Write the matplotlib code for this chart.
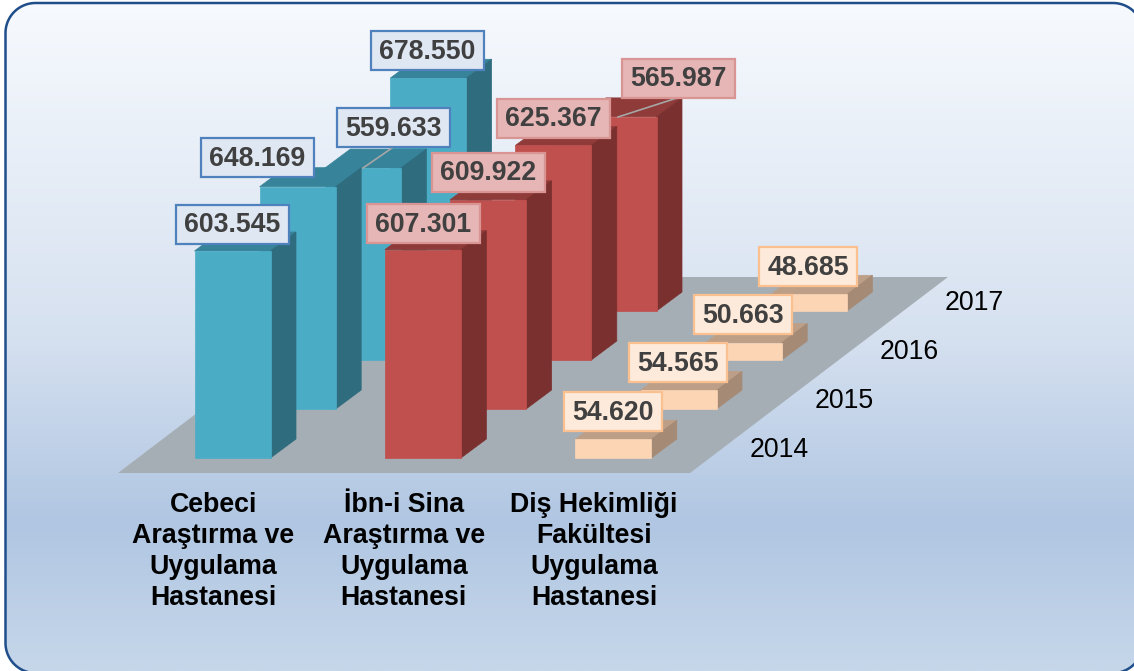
import matplotlib
matplotlib.use('Agg')
import matplotlib.pyplot as plt
import numpy as np
from matplotlib.colors import LinearSegmentedColormap
from matplotlib.patches import FancyBboxPatch, Polygon

plt.rcParams['font.family'] = ['Liberation Sans', 'DejaVu Sans']

years = ['2014', '2015', '2016', '2017']
categories = ['Cebeci\nAraştırma ve\nUygulama\nHastanesi',
              'İbn-i Sina\nAraştırma ve\nUygulama\nHastanesi',
              'Diş Hekimliği\nFakültesi\nUygulama\nHastanesi']
cebeci = [603545, 648169, 559633, 678550]
ibni_sina = [607301, 609922, 625367, 565987]
dis_hekimligi = [54620, 54565, 50663, 48685]
series = [cebeci, ibni_sina, dis_hekimligi]

# front, side, top, label face, label edge
colors = [('#4bacc6', '#2f6c7d', '#37849a', '#dfe7f3', '#4f81bd'),
          ('#c0504d', '#7a302e', '#8f3b39', '#e6b5b5', '#d99594'),
          ('#fcd5b5', '#a58a75', '#bd9f87', '#fdeada', '#fac090')]

# label centres, moved by hand like in the original chart
label_pos = [[(232.5, 224), (257.5, 157), (393.5, 127.5), (427.5, 50.5)],
             [(423, 223), (488, 172), (553, 118), (678, 78)],
             [(613, 411.5), (678, 362.5), (743, 314.5), (808, 266.5)]]

# oblique projection, everything in picture pixels
X0, Y0 = 194.5, 458
CAT_STEP, YEAR_DX, YEAR_DY = 190.4, 65.2, -49
BAR_W, DEPTH_X, DEPTH_Y = 76, 25.5, -19
PX_PER_UNIT = 0.343 / 1000


def bar_faces(i, j, v):
	x = X0 + CAT_STEP * i + YEAR_DX * j
	y = Y0 + YEAR_DY * j
	top = y - v * PX_PER_UNIT
	front = [(x, y), (x + BAR_W, y), (x + BAR_W, top), (x, top)]
	side = [(x + BAR_W, y), (x + BAR_W + DEPTH_X, y + DEPTH_Y),
	        (x + BAR_W + DEPTH_X, top + DEPTH_Y), (x + BAR_W, top)]
	cap = [(x, top), (x + BAR_W, top), (x + BAR_W + DEPTH_X, top + DEPTH_Y),
	       (x + DEPTH_X, top + DEPTH_Y)]
	return front, side, cap


def rounded_rect(x0, y0, x1, y1, r):
	# corners as short arcs, the curved patch goes wrong when it leaves the canvas
	pts = []
	for cx, cy, start in [(x1 - r, y0 + r, -90), (x1 - r, y1 - r, 0), (x0 + r, y1 - r, 90), (x0 + r, y0 + r, 180)]:
		a = np.radians(np.linspace(start, start + 90, 24))
		pts += list(zip(cx + r * np.cos(a), cy + r * np.sin(a)))
	return pts


fig = plt.figure(figsize=(11.34, 6.71), dpi=100)
ax = fig.add_axes([0, 0, 1, 1])
ax.set_xlim(0, 1134)
ax.set_ylim(671, 0)
ax.axis('off')

# background panel
cmap = LinearSegmentedColormap.from_list('panel', [(0, '#f7fafe'), (0.5, '#d6e1f0'),
                                                   (0.78, '#b0c6e2'), (1, '#c6d7ea')])
grad = np.linspace(0, 1, 256).reshape(-1, 1)
im = ax.imshow(grad, cmap=cmap, extent=(0, 1134, 671, 0), aspect='auto', zorder=0)
panel = Polygon(rounded_rect(5.5, 3, 1143, 673, 30), closed=True, fc='none', ec='#1f4e8a', lw=1.8, zorder=1)
ax.add_patch(panel)
im.set_clip_path(panel)
ax.set_xlim(0, 1134)
ax.set_ylim(671, 0)

# floor
ax.add_patch(Polygon([(118, 473), (690, 473), (948, 277), (376, 277)], fc='#a6aeb5', ec='none', zorder=2))

# bars, back row first
z = 3
for j in range(len(years) - 1, -1, -1):
	for i in range(len(categories)):
		front, side, cap = bar_faces(i, j, series[i][j])
		c = colors[i]
		ax.add_patch(Polygon(cap, fc=c[2], ec=c[2], lw=0.5, zorder=z))
		ax.add_patch(Polygon(side, fc=c[1], ec=c[1], lw=0.5, zorder=z))
		ax.add_patch(Polygon(front, fc=c[0], ec=c[0], lw=0.5, zorder=z))
		z += 1

# leader lines
ax.plot([392, 363], [148, 168], color='#a6a6a6', lw=1.2, zorder=30)
ax.plot([677, 618], [98, 117], color='#a6a6a6', lw=1.2, zorder=30)

# value labels
for i, vals in enumerate(series):
	for j, v in enumerate(vals):
		s = f'{v:,}'.replace(',', '.')
		hw = 49 if i == 2 else 56.5
		lx, ly = label_pos[i][j]
		ax.add_patch(FancyBboxPatch((lx - hw, ly - 19.5), 2 * hw, 39, boxstyle='square,pad=0',
		                            fc=colors[i][3], ec=colors[i][4], lw=1.6, zorder=31))
		ax.text(lx, ly + 1.5, s, ha='center', va='center', fontsize=19.2, fontweight='bold',
		        color='#404040', zorder=32)

# year labels
for j, y in enumerate(years):
	ax.text(779.5 + 65 * j, 450 - 49 * j, y, ha='center', va='center', fontsize=19.2, color='black', zorder=32)

# category labels
for i, c in enumerate(categories):
	ax.text(213.5 + 190.3 * i, 551.5, c, ha='center', va='center', fontsize=19.3, fontweight='bold',
	        color='black', linespacing=1.24, zorder=32)

plt.savefig('out.png', dpi=100)
